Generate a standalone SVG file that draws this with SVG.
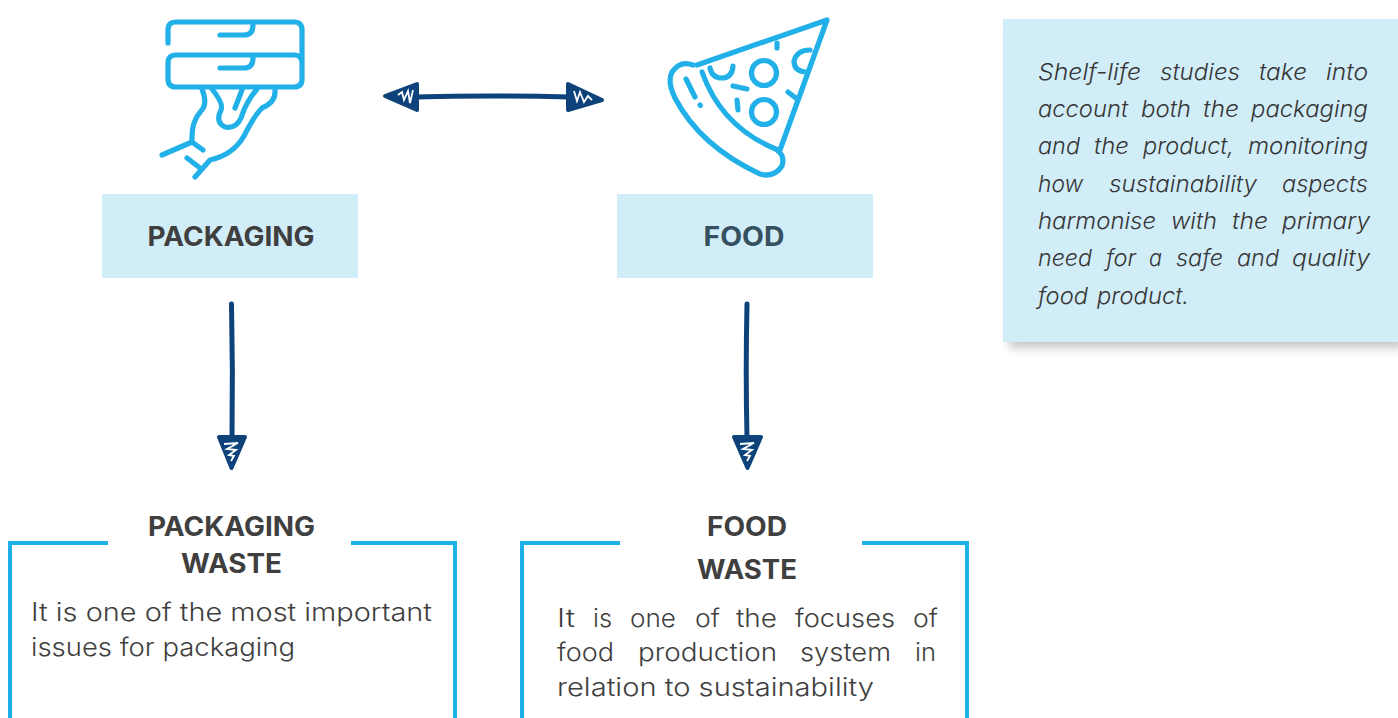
<svg xmlns="http://www.w3.org/2000/svg" width="1398" height="718" viewBox="0 0 1398 718">
<defs>
<filter id="sh" x="-10%" y="-10%" width="125%" height="130%"><feDropShadow dx="6" dy="6" stdDeviation="5" flood-color="#000" flood-opacity="0.22"/></filter>
<filter id="soft" x="-5%" y="-5%" width="110%" height="110%"><feGaussianBlur stdDeviation="0.6"/></filter>
</defs>
<style>
text{font-family:"Inter","Noto Sans","Liberation Sans",sans-serif;fill:#3f3f3f}
.t{font-weight:700;font-size:26.5px;text-anchor:middle;fill:#3f3f3f}
.b{font-size:25px;font-weight:300}
.i{font-size:23px;font-style:italic;font-weight:300;fill:#363636}
.ic{fill:none;stroke:#23b0e8;stroke-width:5.2;stroke-linecap:round;stroke-linejoin:round}
.fr{fill:none;stroke:#1fafe9;stroke-width:4}
.lab{fill:#d1edf8}
.ln{fill:none;stroke:#0c427a;stroke-linecap:round;stroke-width:5}
.hd{fill:#0c427a;stroke:#0c427a;stroke-width:4;stroke-linejoin:round}
.hl{fill:none;stroke:#fff;stroke-width:1.8}
</style>
<g id="packaging-icon" class="ic" filter="url(#soft)">
<path d="M168 43V30Q168 22 176 22H294Q302 22 302 30V79Q302 87 294 87H176Q168 87 168 79V63Q168 55 176 55H294Q302 55 302 63"/>
<path d="M220 35H244Q253 35 253 25M220 68H244Q253 68 253 58"/>
<path d="M202 89Q208 104 201 111Q191 122 192 141M162 155L192 142L203 150M187 158L200 168M195 177L210 160Q233 155 244 136Q254 116 262 108Q276 102 275 90"/>
<path d="M212 89Q224 104 221 110Q215 122 225 127Q236 129 241 118Q246 102 257 89M242 90L235 108"/>
</g>
<g id="pizza-icon" class="ic" filter="url(#soft)">
<path d="M697 65L827 20L780 150"/>
<path d="M702 72Q722 128 778 150"/>
<path d="M693 65Q680 60 672 72Q667 82 675 98Q700 146 760 174Q774 178 782 166Q785 156 778 151"/>
<path d="M686 79L695 97M700 105L700.500 105.500"/>
<path d="M710 68Q712 78 722 78Q732 78 733 66M777 43V48"/>
<circle cx="764" cy="73" r="12.500"/><circle cx="764" cy="112" r="12.500"/>
<path d="M733 86L747 89M737 100L738 110M788 92L797 99M810 50Q797 50 794 61Q794 71 805 72"/>
</g>
<g id="packaging"><rect class="lab" x="102" y="194" width="256" height="84"/><text class="t" x="231" y="246" textLength="167" lengthAdjust="spacingAndGlyphs">PACKAGING</text></g>
<g id="food"><rect class="lab" x="617" y="194" width="256" height="84"/><text class="t" x="744" y="246" style="fill:#35505f" textLength="81" lengthAdjust="spacingAndGlyphs">FOOD</text></g>
<g id="note"><rect x="1003" y="19" width="395" height="323" class="lab" filter="url(#sh)"/>
<g class="i">
<text class="i" x="1038" y="80" textLength="103" lengthAdjust="spacingAndGlyphs">Shelf-life</text><text class="i" x="1160" y="80" textLength="80" lengthAdjust="spacingAndGlyphs">studies</text><text class="i" x="1259" y="80" textLength="48" lengthAdjust="spacingAndGlyphs">take</text><text class="i" x="1326" y="80" textLength="42" lengthAdjust="spacingAndGlyphs">into</text>
<text class="i" x="1038" y="117" textLength="90" lengthAdjust="spacingAndGlyphs">account</text><text class="i" x="1141" y="117" textLength="50" lengthAdjust="spacingAndGlyphs">both</text><text class="i" x="1203" y="117" textLength="36" lengthAdjust="spacingAndGlyphs">the</text><text class="i" x="1251" y="117" textLength="117" lengthAdjust="spacingAndGlyphs">packaging</text>
<text class="i" x="1038" y="154" textLength="42" lengthAdjust="spacingAndGlyphs">and</text><text class="i" x="1094" y="154" textLength="35" lengthAdjust="spacingAndGlyphs">the</text><text class="i" x="1143" y="154" textLength="91" lengthAdjust="spacingAndGlyphs">product,</text><text class="i" x="1248" y="154" textLength="120" lengthAdjust="spacingAndGlyphs">monitoring</text>
<text class="i" x="1038" y="192" textLength="45" lengthAdjust="spacingAndGlyphs">how</text><text class="i" x="1109" y="192" textLength="148" lengthAdjust="spacingAndGlyphs">sustainability</text><text class="i" x="1282" y="192" textLength="86" lengthAdjust="spacingAndGlyphs">aspects</text>
<text class="i" x="1038" y="229" textLength="118" lengthAdjust="spacingAndGlyphs">harmonise</text><text class="i" x="1171" y="229" textLength="46" lengthAdjust="spacingAndGlyphs">with</text><text class="i" x="1232" y="229" textLength="36" lengthAdjust="spacingAndGlyphs">the</text><text class="i" x="1282" y="229" textLength="88" lengthAdjust="spacingAndGlyphs">primary</text>
<text class="i" x="1038" y="266" textLength="54" lengthAdjust="spacingAndGlyphs">need</text><text class="i" x="1106" y="266" textLength="30" lengthAdjust="spacingAndGlyphs">for</text><text class="i" x="1149" y="266" textLength="13" lengthAdjust="spacingAndGlyphs">a</text><text class="i" x="1176" y="266" textLength="47" lengthAdjust="spacingAndGlyphs">safe</text><text class="i" x="1237" y="266" textLength="42" lengthAdjust="spacingAndGlyphs">and</text><text class="i" x="1292" y="266" textLength="78" lengthAdjust="spacingAndGlyphs">quality</text>
<text class="i" x="1038" y="304" textLength="50" lengthAdjust="spacingAndGlyphs">food</text><text class="i" x="1097" y="304" textLength="92" lengthAdjust="spacingAndGlyphs">product.</text>
</g></g>
<g id="packaging-waste">
<path class="fr" d="M108 543H10V718M351 543H455V718"/>
<text class="t" x="231.500" y="536" textLength="167" lengthAdjust="spacingAndGlyphs">PACKAGING</text><text class="t" x="231.500" y="573" textLength="101" lengthAdjust="spacingAndGlyphs">WASTE</text>
<text class="b" x="31" y="621" textLength="401" lengthAdjust="spacingAndGlyphs">It is one of the most important</text><text class="b" x="31" y="656" textLength="264" lengthAdjust="spacingAndGlyphs">issues for packaging</text>
</g>
<g id="food-waste">
<path class="fr" d="M620 543H522V718M862 543H967V718"/>
<text class="t" x="747" y="536" textLength="80" lengthAdjust="spacingAndGlyphs">FOOD</text><text class="t" x="747" y="579" textLength="100" lengthAdjust="spacingAndGlyphs">WASTE</text>
<text class="b" x="557" y="627" textLength="18" lengthAdjust="spacingAndGlyphs">It</text><text class="b" x="593" y="627" textLength="19" lengthAdjust="spacingAndGlyphs">is</text><text class="b" x="630" y="627" textLength="46" lengthAdjust="spacingAndGlyphs">one</text><text class="b" x="695" y="627" textLength="25" lengthAdjust="spacingAndGlyphs">of</text><text class="b" x="736" y="627" textLength="41" lengthAdjust="spacingAndGlyphs">the</text><text class="b" x="795" y="627" textLength="100" lengthAdjust="spacingAndGlyphs">focuses</text><text class="b" x="913" y="627" textLength="25" lengthAdjust="spacingAndGlyphs">of</text>
<text class="b" x="557" y="661" textLength="57" lengthAdjust="spacingAndGlyphs">food</text><text class="b" x="638" y="661" textLength="139" lengthAdjust="spacingAndGlyphs">production</text><text class="b" x="800" y="661" textLength="91" lengthAdjust="spacingAndGlyphs">system</text><text class="b" x="915" y="661" textLength="21" lengthAdjust="spacingAndGlyphs">in</text>
<text class="b" x="557" y="696" textLength="317" lengthAdjust="spacingAndGlyphs">relation to sustainability</text>
</g>
<g id="connectors" filter="url(#soft)">
<path class="ln" d="M415 97Q490 95 570 97"/>
<path class="hd" d="M385 96L417 84V110Z"/><path class="hd" d="M602 100L568 84V110Z"/>
<path class="hl" d="M398 95L402 92L404 100L408 91L410 103L413 90"/><path class="hl" d="M574 91L577 101L580 92L584 102L588 96L592 100"/>
<path class="ln" d="M231.500 304Q233 370 232 438"/><path class="hd" d="M219 437H245L231.500 468Z"/>
<path class="hl" d="M224 444L238 443L227 449L236 450L229 455L234 456L231 461"/>
<path class="ln" d="M747 304Q745.500 370 747 438"/><path class="hd" d="M734 437H761L747.500 468Z"/>
<path class="hl" d="M740 444L754 443L743 449L752 450L745 455L750 456L747 461"/>
</g>
</svg>
